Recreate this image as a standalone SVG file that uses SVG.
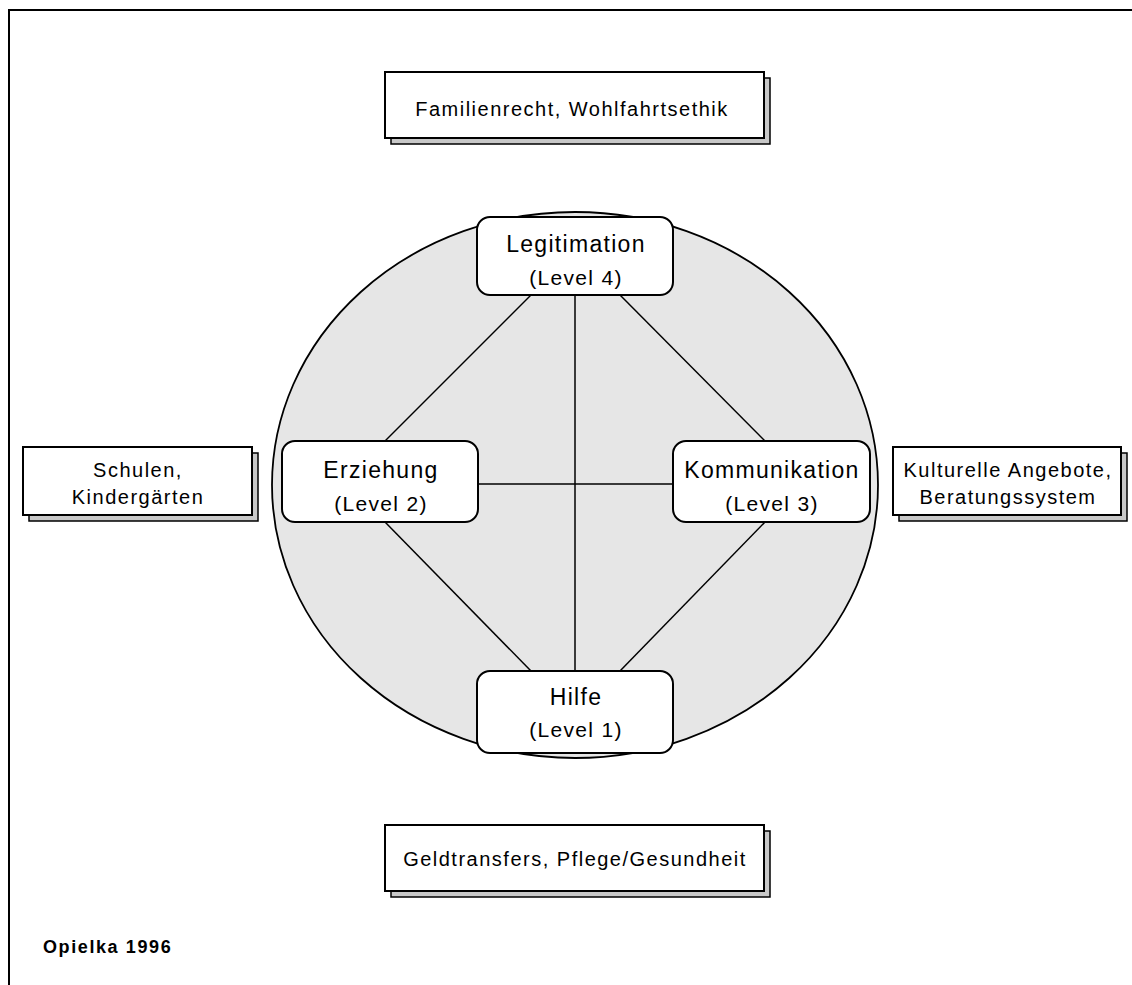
<svg xmlns="http://www.w3.org/2000/svg" width="1132" height="985" viewBox="0 0 1132 985">
<style>
text{font-family:"Liberation Sans",Arial,sans-serif;fill:#000;text-anchor:middle}
.box{fill:#fff;stroke:#000;stroke-width:2}
.shadow{fill:#c8c8c8;stroke:#000;stroke-width:1.5}
.node{fill:#fff;stroke:#000;stroke-width:2}
.conn line{stroke:#000;stroke-width:1.5}
.t1{font-size:23px;letter-spacing:1.3px}
.t2{font-size:21px;letter-spacing:1.3px}
.ob{font-size:20px;letter-spacing:1.5px}
</style>
<rect width="1132" height="985" fill="#fff"/>
<g id="frame" fill="none" stroke="#000" stroke-width="2">
<path d="M9 985 V10 H1132"/>
</g>
<g id="circle"><ellipse cx="575" cy="485" rx="303" ry="273" fill="#e6e6e6" stroke="#000" stroke-width="1.8"/></g>
<g class="conn" id="connectors">
<line x1="531" y1="295" x2="385" y2="441"/>
<line x1="620" y1="295" x2="765" y2="441"/>
<line x1="575" y1="295" x2="575" y2="671"/>
<line x1="478" y1="484" x2="673" y2="484"/>
<line x1="385" y1="522" x2="531" y2="671"/>
<line x1="765" y1="522" x2="620" y2="671"/>
</g>
<g id="top-box">
<rect class="shadow" x="391" y="78" width="379" height="66"/>
<rect class="box" x="385" y="72" width="379" height="66"/>
<text class="ob" x="572" y="116">Familienrecht, Wohlfahrtsethik</text>
</g>
<g id="left-box">
<rect class="shadow" x="29" y="453" width="229" height="68"/>
<rect class="box" x="23" y="447" width="229" height="68"/>
<text class="ob" x="138" y="477">Schulen,</text>
<text class="ob" x="138" y="504">Kindergärten</text>
</g>
<g id="right-box">
<rect class="shadow" x="899" y="453" width="228" height="68"/>
<rect class="box" x="893" y="447" width="228" height="68"/>
<text class="ob" x="1008" y="477">Kulturelle Angebote,</text>
<text class="ob" x="1008" y="504">Beratungssystem</text>
</g>
<g id="bottom-box">
<rect class="shadow" x="391" y="831" width="379" height="66"/>
<rect class="box" x="385" y="825" width="379" height="66"/>
<text class="ob" x="575" y="866">Geldtransfers, Pflege/Gesundheit</text>
</g>
<g id="legitimation">
<rect class="node" x="477" y="217" width="196" height="78" rx="13"/>
<text class="t1" x="576" y="252">Legitimation</text>
<text class="t2" x="576" y="285">(Level 4)</text>
</g>
<g id="erziehung">
<rect class="node" x="282" y="441" width="196" height="81" rx="13"/>
<text class="t1" x="381" y="478">Erziehung</text>
<text class="t2" x="381" y="511">(Level 2)</text>
</g>
<g id="kommunikation">
<rect class="node" x="673" y="441" width="197" height="81" rx="13"/>
<text class="t1" x="772" y="478">Kommunikation</text>
<text class="t2" x="772" y="511">(Level 3)</text>
</g>
<g id="hilfe">
<rect class="node" x="477" y="671" width="196" height="82" rx="13"/>
<text class="t1" x="576" y="705">Hilfe</text>
<text class="t2" x="576" y="737">(Level 1)</text>
</g>
<g id="caption">
<text x="43" y="953" style="text-anchor:start;font-size:18px;font-weight:bold;letter-spacing:1.6px">Opielka 1996</text>
</g>
</svg>
